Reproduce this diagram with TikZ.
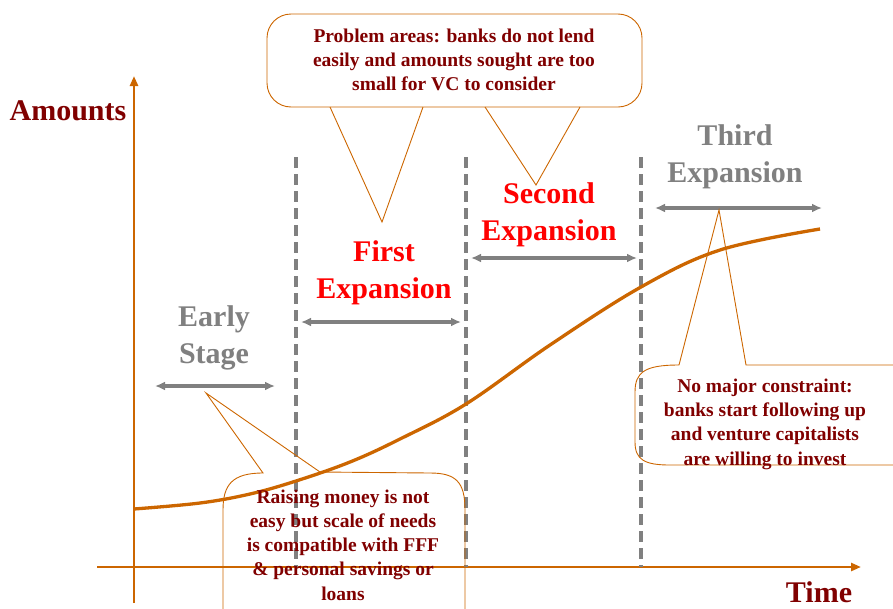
\documentclass[tikz,border=0pt]{standalone}
\usepackage{fontspec}
\setmainfont{Liberation Serif}
\usetikzlibrary{arrows.meta}
\definecolor{axisor}{RGB}{204,102,0}
\definecolor{darkred}{RGB}{128,0,0}
\definecolor{midgray}{RGB}{128,128,128}
\begin{document}
\begin{tikzpicture}[x=1pt,y=-1pt,
  axis/.style={draw=axisor, line width=2.8pt, -{Triangle[length=10pt,width=8pt]}},
  growth/.style={draw=axisor, line width=3.3pt},
  phase/.style={draw=midgray, line width=3.5pt, dash pattern=on 11pt off 6pt},
  span/.style={draw=midgray, line width=3.2pt, {Latex[length=10pt,width=9pt]}-{Latex[length=10pt,width=9pt]}},
  callout/.style={draw=axisor, line width=0.9pt},
  note/.style={text=darkred, font=\fontsize{19.5}{24.3}\selectfont\bfseries, align=center, inner sep=0pt},
  stagegray/.style={text=midgray, font=\fontsize{30}{37}\selectfont\bfseries, align=center, inner sep=0pt},
  stagered/.style={text=red, font=\fontsize{30}{37}\selectfont\bfseries, align=center, inner sep=0pt},
  axislabel/.style={text=darkred, font=\fontsize{30}{36}\selectfont\bfseries, inner sep=0pt}]
\useasboundingbox (0,0) rectangle (893,608);
\clip (0,0) rectangle (893,608);

% axes
\coordinate (yb) at (134,603);
\coordinate (yt) at (134,76);
\coordinate (xl) at (97,567);
\coordinate (xr) at (861,567);
\draw[axis] (yb) -- (yt);
\draw[axis] (xl) -- (xr);
\node[axislabel] (amounts) at (68,111) {Amounts};
\node[axislabel] (time) at (819,592) {Time};

% phase boundaries
\coordinate (d1t) at (296,157); \coordinate (d1b) at (296,567);
\coordinate (d2t) at (466,157); \coordinate (d2b) at (466,567);
\coordinate (d3t) at (641,157); \coordinate (d3b) at (641,567);
\draw[phase] (d1t) -- (d1b);
\draw[phase] (d2t) -- (d2b);
\draw[phase] (d3t) -- (d3b);

% growth curve
\draw[growth] plot[smooth, tension=0.6] coordinates {(134,509) (200,503) (250,494) (296,481) (350,462) (400,439) (466,404) (550,345) (641,287) (720,250) (820,229)};

% stage labels and spans
\node[stagegray] (early) at (214,338) {Early\\Stage};
\coordinate (s0l) at (155,386); \coordinate (s0r) at (275,386);
\draw[span] (s0l) -- (s0r);

\node[stagered] (first) at (384,273) {First\\Expansion};
\coordinate (s1l) at (301,322); \coordinate (s1r) at (461,322);
\draw[span] (s1l) -- (s1r);

\node[stagered] (second) at (549,215) {Second\\Expansion};
\coordinate (s2l) at (471,258); \coordinate (s2r) at (637,258);
\draw[span] (s2l) -- (s2r);

\node[stagegray] (third) at (735,157) {Third\\Expansion};
\coordinate (s3l) at (655,208); \coordinate (s3r) at (822,208);
\draw[span] (s3l) -- (s3r);

% top callout
\draw[callout, rounded corners=24pt] (267,14) rectangle (642,107);
\draw[callout] (330,107) -- (382,222) -- (423,107);
\draw[callout] (485,107) -- (536,185) -- (580,107);
\node[note] (topnote) at (454,60) {Problem areas: banks do not lend\\easily and amounts sought are too\\small for VC to consider};

% bottom-left callout
\draw[callout] (206,393) -- (263,473) .. controls (232,473) and (223,485) .. (223,510)
  -- (223,640) -- (465,640) -- (465,510) .. controls (465,482) and (456,473) .. (430,473)
  -- (320,472) -- cycle;
\node[note] (leftnote) at (343,545) {Raising money is not\\easy but scale of needs\\is compatible with FFF\\\& personal savings or\\loans};

% right callout
\draw[callout] (719,210) -- (679,365) .. controls (645,365) and (635,372) .. (635,392)
  -- (635,442) .. controls (635,460) and (645,465) .. (670,465) -- (910,465) -- (910,365)
  -- (746,365) -- cycle;
\node[note] (rightnote) at (765,424) {No major constraint:\\banks start following up\\and venture capitalists\\are willing to invest};
\end{tikzpicture}
\end{document}
